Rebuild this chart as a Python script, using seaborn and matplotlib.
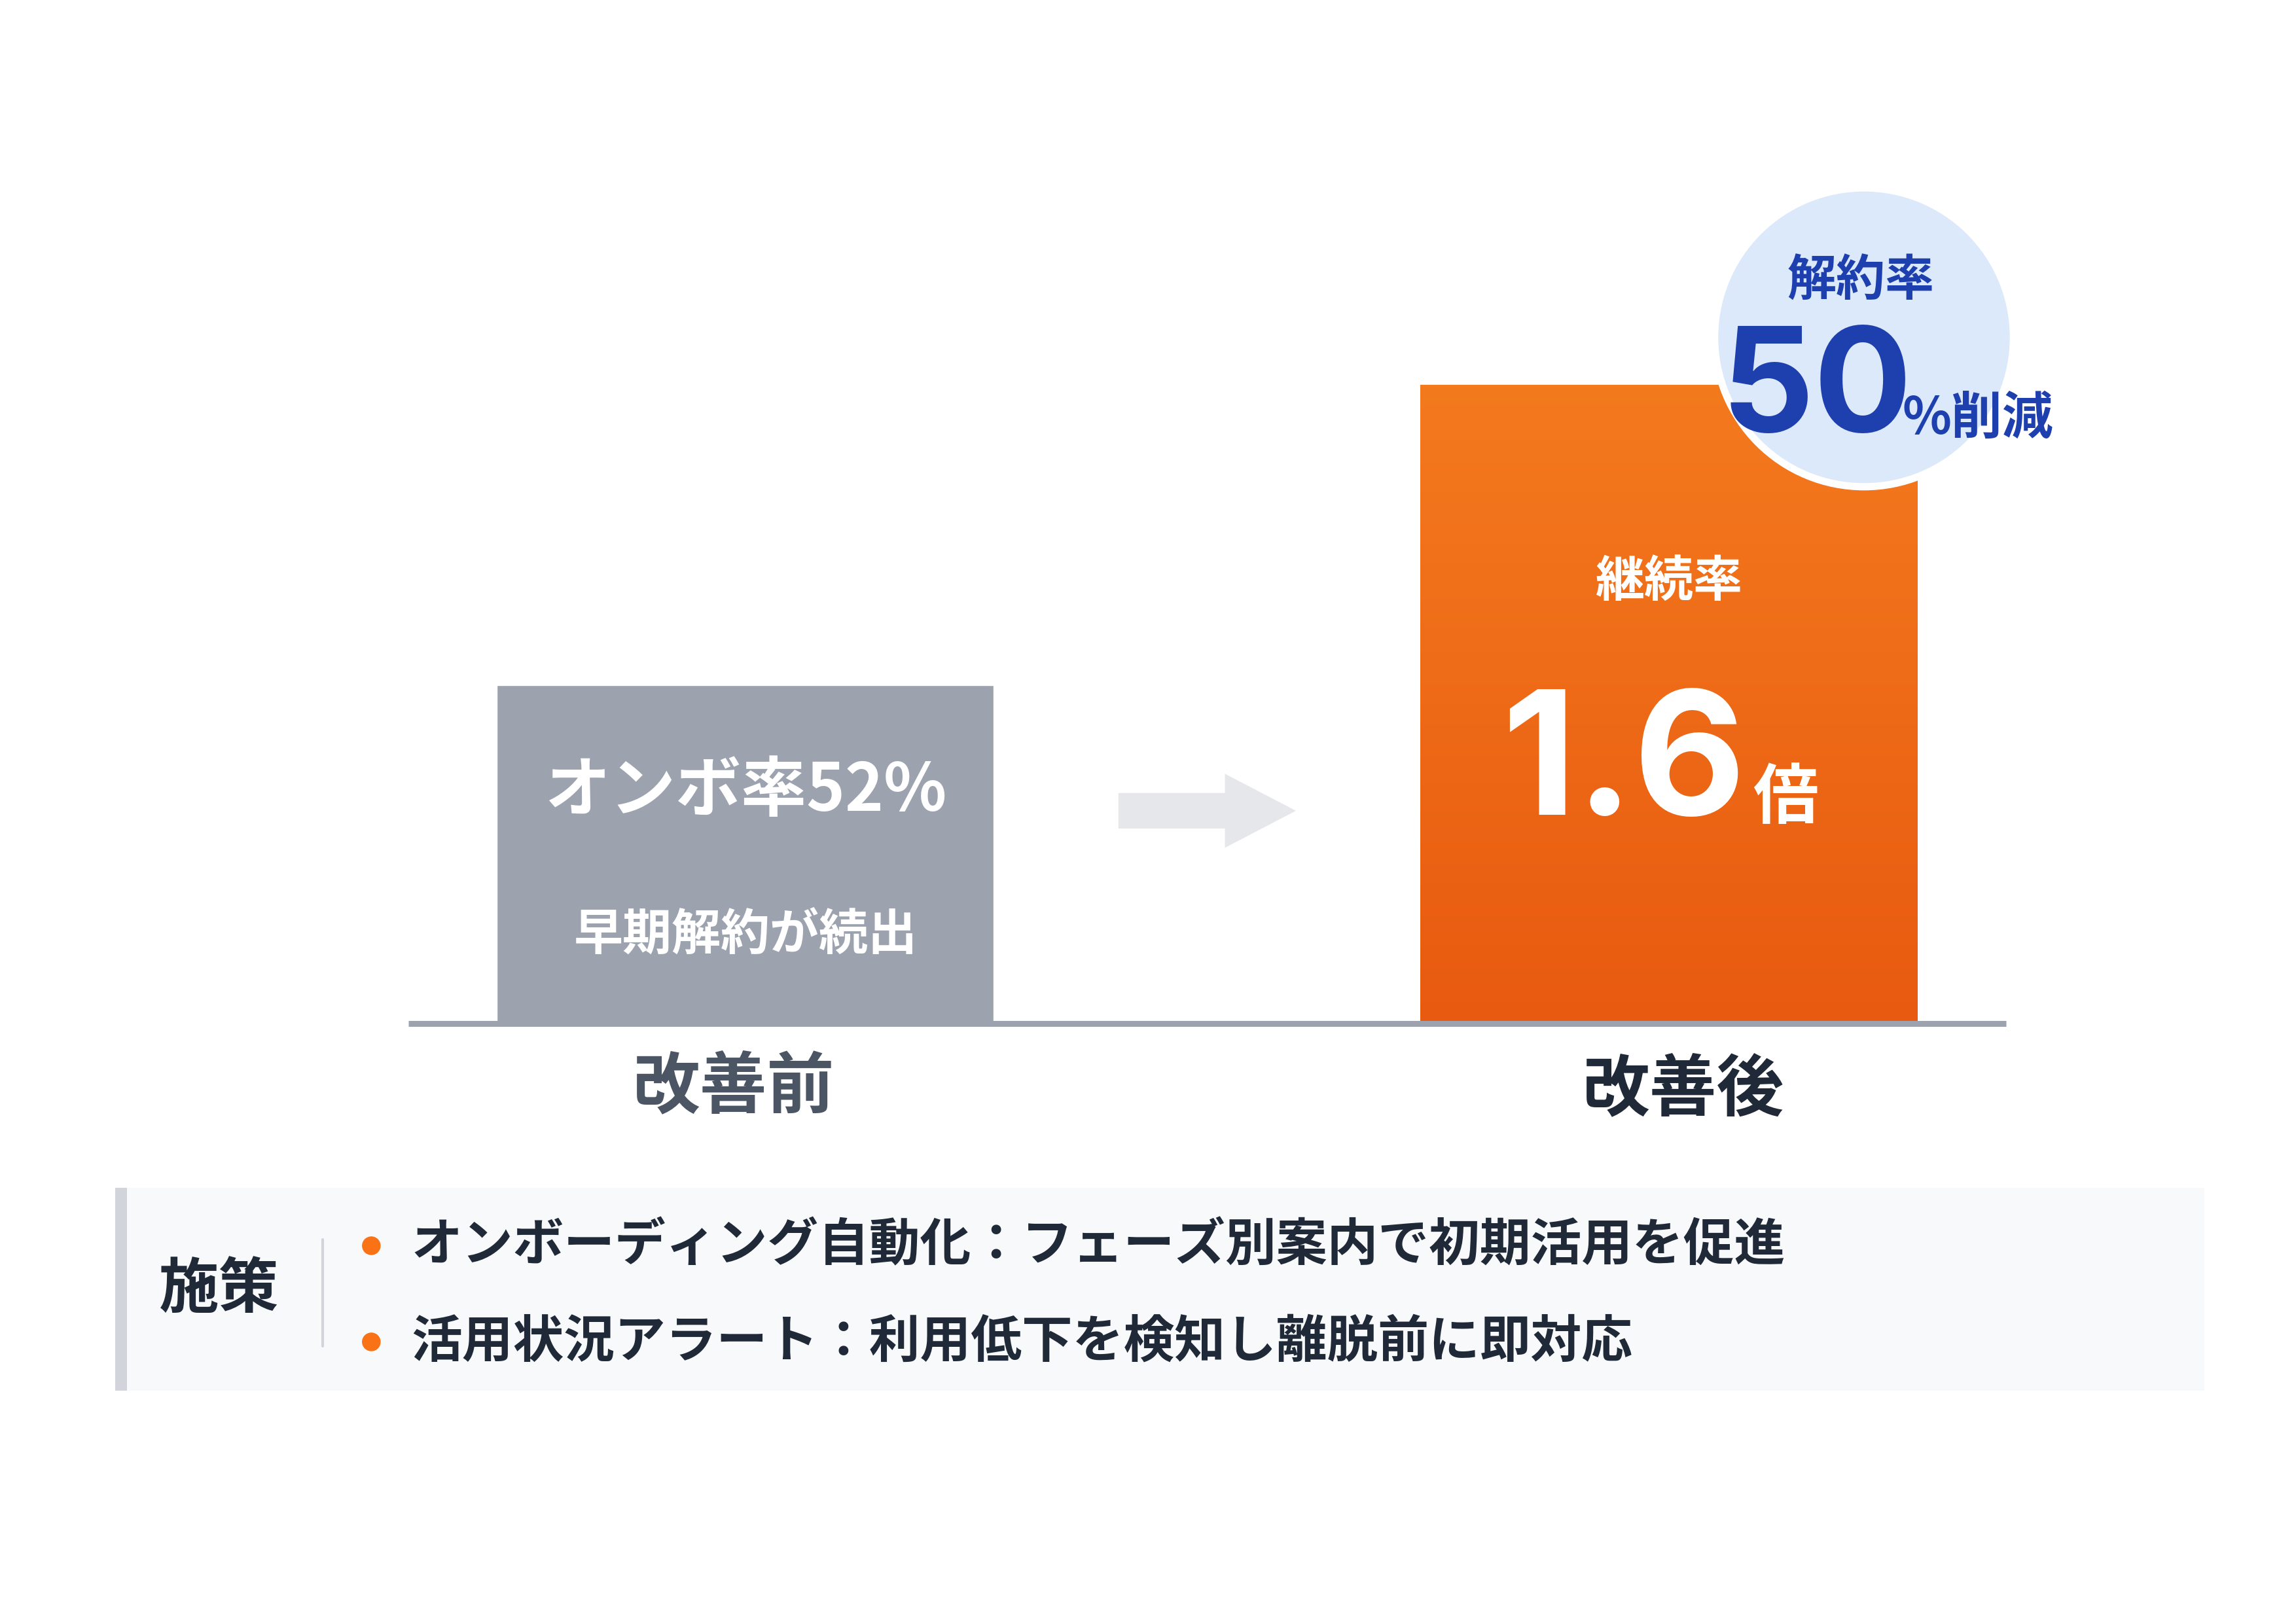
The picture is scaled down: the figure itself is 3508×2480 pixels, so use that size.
import matplotlib
matplotlib.use("Agg")
import matplotlib.pyplot as plt
import seaborn as sns
import numpy as np
import pandas as pd
from matplotlib.patches import Circle, Rectangle, FancyArrow

sns.set_theme(style="white")
plt.rcParams['font.family'] = ['Noto Sans CJK JP', 'DejaVu Sans']

categories = ["改善前", "改善後"]
values = [53, 100]
bar_colors = ["#9CA3AF", "#EE6A15"]
bar_title = ["オンボ率52%", "継続率"]
measures = ["オンボーディング自動化：フェーズ別案内で初期活用を促進",
            "活用状況アラート：利用低下を検知し離脱前に即対応"]

W, H = 1552, 1097
fig = plt.figure(figsize=(35.08, 24.8), dpi=100)
fig.patch.set_facecolor("white")

def fx(px): return px / W
def fy(py): return 1 - py / H

# bar axes: x 276..1356, y 692 (0) .. 260 (100)
ax = fig.add_axes([fx(276), fy(692), fx(1356) - fx(276), fy(260) - fy(692)])
df = pd.DataFrame({"cat": categories, "val": values})
sns.barplot(data=df, x="cat", y="val", hue="cat", palette=bar_colors,
            width=0.538, legend=False, ax=ax, saturation=1)
ax.set_xlim(-0.365, 1.365)
ax.set_ylim(0, 100)
ax.axis("off")
ax.patch.set_alpha(0)
# gradient on orange bar
bar = ax.patches[1]
grad = np.linspace(0, 1, 256).reshape(-1, 1)
from matplotlib.colors import LinearSegmentedColormap
cmap = LinearSegmentedColormap.from_list("g", ["#E85A10", "#F47A1E"])
bx, bw, bh = bar.get_x(), bar.get_width(), bar.get_height()
im = ax.imshow(grad, cmap=cmap, extent=[bx, bx + bw, 0, bh], origin="lower",
               aspect="auto", zorder=bar.get_zorder() + 0.1)
im.set_clip_path(bar)
ax.set_xlim(-0.365, 1.365)
ax.set_ylim(0, 100)

# overlay
ov = fig.add_axes([0, 0, 1, 1], zorder=5)
ov.set_xlim(0, W); ov.set_ylim(H, 0); ov.axis("off"); ov.patch.set_alpha(0)

ov.plot([276, 1356], [692, 692], color="#9CA3AF", lw=6.5, solid_capstyle="butt")

ov.text(504, 535, bar_title[0], color="white", fontsize=72, fontweight="bold", ha="center", va="center")
ov.text(504, 632, "早期解約が続出", color="white", fontsize=54, fontweight="bold", ha="center", va="center")
ov.text(1128, 393, bar_title[1], color="white", fontsize=54, fontweight="bold", ha="center", va="center")
ov.text(1180, 520, "1.6", color="white", fontsize=190, fontweight="bold", ha="right", va="center", family=["Inter", "DejaVu Sans"])
ov.text(1185, 540, "倍", color="white", fontsize=72, fontweight="bold", ha="left", va="center")

ov.add_patch(FancyArrow(756, 548, 120, 0, width=24, head_width=50, head_length=48,
                        length_includes_head=True, color="#E5E7EB", lw=0))

ov.add_patch(Circle((1260, 228), 101, facecolor="#DCE9FB", edgecolor="white", lw=8))
ov.text(1258, 190, "解約率", color="#1E40AF", fontsize=54, fontweight="bold", ha="center", va="center")
ov.text(1228, 266, "50", color="#1E40AF", fontsize=160, fontweight="bold", ha="center", va="center", family=["Inter", "DejaVu Sans"])
ov.text(1286, 283, "%削減", color="#1E40AF", fontsize=56, fontweight="bold", ha="left", va="center")

ov.text(496, 735, categories[0], color="#4B5563", fontsize=74, fontweight="bold", ha="center", va="center")
ov.text(1138, 737, categories[1], color="#1F2937", fontsize=74, fontweight="bold", ha="center", va="center")

ov.add_patch(Rectangle((78, 803), 1412, 137, facecolor="#F8F9FB", lw=0))
ov.add_patch(Rectangle((78, 803), 8, 137, facecolor="#D1D5DB", lw=0))
ov.text(148, 872, "施策", color="#1F2937", fontsize=66, fontweight="bold", ha="center", va="center")
ov.plot([218, 218], [838, 910], color="#D1D5DB", lw=3)
for i, (t, y) in enumerate(zip(measures, [842, 907])):
    ov.add_patch(Circle((251, y), 6, color="#F97316"))
    ov.text(278, y, t, color="#1F2937", fontsize=56, fontweight="bold", ha="left", va="center")

fig.savefig("out.png", dpi=100)
